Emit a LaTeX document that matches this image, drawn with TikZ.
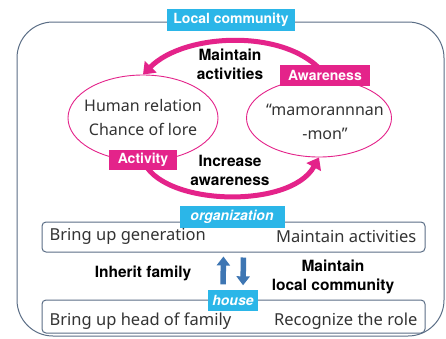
\documentclass[tikz,border=0pt]{standalone}
\usepackage{fontspec}
\setmainfont{Noto Sans}
\newfontfamily\headfont{TeX Gyre Heros}
\usetikzlibrary{shapes,arrows.meta,positioning,calc,backgrounds}

\definecolor{skyblue}{HTML}{2BB6E8}
\definecolor{pinkred}{HTML}{E4238A}
\definecolor{slate}{HTML}{5B6E86}
\definecolor{steel}{HTML}{3E76B3}

\begin{document}
\begin{tikzpicture}[x=1pt, y=-1pt,
    tag/.style={rectangle, fill=skyblue, text=white, font=\headfont\bfseries\fontsize{14}{14}\selectfont, inner xsep=4pt, inner ysep=3pt},
    pinktag/.style={rectangle, fill=pinkred, text=white, font=\headfont\bfseries\fontsize{14}{14}\selectfont, inner xsep=4pt, inner ysep=3pt},
    circ/.style={ellipse, draw=pinkred, line width=0.9pt, fill=white},
    circtext/.style={align=center, text=black!80, font=\fontsize{16}{24}\selectfont},
    panel/.style={rectangle, draw=slate, line width=1pt, rounded corners=4pt, minimum width=383pt},
    paneltext/.style={text=black!80, font=\fontsize{16.5}{16}\selectfont, inner sep=0pt},
    caption/.style={align=center, font=\headfont\bfseries\fontsize{15.5}{19}\selectfont},
    cycle/.style={pinkred, line width=5pt, -{Triangle[width=16pt,length=11pt]}},
    updown/.style={steel, line width=5.5pt, -{Triangle[width=13pt,length=9pt]}, shorten <=5pt, shorten >=4pt}
]
\useasboundingbox (0,0) rectangle (446,338);

% Outer frame
\draw[slate, line width=1pt, rounded corners=36pt] (17,22) rectangle (444,336);
\node[tag, minimum width=128pt, minimum height=22pt] (local) at (231,20) {Local community};

% Cycle
\node[circ, minimum width=150pt, minimum height=86pt] (left) at (143,118) {};
\node[circ, minimum width=145pt, minimum height=78pt] (right) at (319,118) {};
\node[circtext] (lefttext) at (143,117) {Human relation\\Chance of lore};
\node[circtext] (righttext) at (325,122) {“mamorannnan\\-mon”};
\node[pinktag, minimum width=90pt, minimum height=21pt] (aware) at (325,75) {Awareness};
\node[pinktag, minimum width=68pt, minimum height=20pt] (activity) at (143,160) {Activity};
\node[caption] (maintain) at (230,64) {Maintain\\activities};
\node[caption] (increase) at (230,170) {Increase\\awareness};

\begin{scope}[on background layer]
\fill[white] (0,0) rectangle (446,338);
\draw[cycle] (aware.center) .. controls (290,28) and (185,32) .. (left.north);
\draw[cycle] (activity.center) .. controls (160,206) and (290,210) .. (right.south);
\end{scope}

% Organization and house
\node[panel, minimum height=30pt] (org) at (233.5,237) {};
\node[tag, font=\headfont\bfseries\itshape\fontsize{14}{14}\selectfont, minimum width=105pt, minimum height=22pt] (orglabel) at (232,217) {organization};
\node[paneltext, anchor=west] (orgleft) at ([xshift=8pt,yshift=1pt]org.west) {Bring up generation};
\node[paneltext, anchor=east] (orgright) at ([xshift=-9pt,yshift=1pt]org.east) {Maintain activities};

\node[panel, minimum height=33pt] (house) at (233.5,316.5) {};
\node[tag, font=\headfont\bfseries\itshape\fontsize{14}{14}\selectfont, minimum width=47pt, minimum height=21pt] (houselabel) at (233,300) {house};
\node[paneltext, anchor=west] (houseleft) at ([xshift=8pt,yshift=-5pt]house.west) {Bring up head of family};
\node[paneltext, anchor=east] (houseright) at ([xshift=-8pt,yshift=-5pt]house.east) {Recognize the role};

\draw[updown] ([xshift=-10pt]houselabel.north) -- ([xshift=-10pt]org.south);
\draw[updown] ([xshift=10pt]org.south) -- ([xshift=10pt]houselabel.north);

\node[caption] (inherit) at (143,273) {Inherit family};
\node[caption] (keep) at (333,277) {Maintain\\local community};

\end{tikzpicture}
\end{document}
